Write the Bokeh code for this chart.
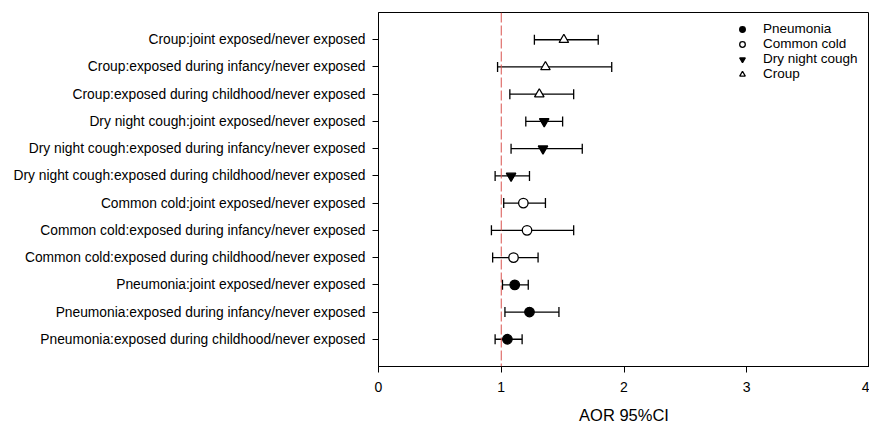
from bokeh.plotting import figure
from bokeh.models import Span, Whisker, ColumnDataSource, Legend, LegendItem, FactorRange
from bokeh.embed import file_html
from bokeh.resources import INLINE

diseases = ["Pneumonia", "Common cold", "Dry night cough", "Croup"]
exposures = ["exposed during childhood/never exposed",
             "exposed during infancy/never exposed",
             "joint exposed/never exposed"]

pneumonia_aor = [1.05, 1.23, 1.11]
pneumonia_low = [0.95, 1.03, 1.01]
pneumonia_high = [1.17, 1.47, 1.22]

common_cold_aor = [1.10, 1.21, 1.18]
common_cold_low = [0.93, 0.92, 1.02]
common_cold_high = [1.30, 1.59, 1.36]

dry_cough_aor = [1.08, 1.34, 1.35]
dry_cough_low = [0.95, 1.08, 1.20]
dry_cough_high = [1.23, 1.66, 1.50]

croup_aor = [1.31, 1.36, 1.51]
croup_low = [1.07, 0.97, 1.27]
croup_high = [1.59, 1.90, 1.79]

aor = [pneumonia_aor, common_cold_aor, dry_cough_aor, croup_aor]
low = [pneumonia_low, common_cold_low, dry_cough_low, croup_low]
high = [pneumonia_high, common_cold_high, dry_cough_high, croup_high]

markers = ["circle", "circle", "inverted_triangle", "triangle"]
fills = ["black", "white", "black", "white"]

factors = [f"{d}:{e}" for d in diseases for e in exposures]

FONT = "Liberation Sans"

p = figure(frame_width=491, frame_height=354, x_range=(0, 4),
           y_range=FactorRange(factors=factors, range_padding=0.5, range_padding_units="absolute"),
           output_backend="svg", toolbar_location=None,
           min_border_left=378, min_border_right=0, min_border_top=12, min_border_bottom=0)

p.xgrid.visible = False
p.ygrid.visible = False
p.outline_line_color = "black"
p.outline_line_width = 1
p.outline_line_alpha = 1

p.add_layout(Span(location=1, dimension="height", line_color="#d9534f",
                  line_dash="10 3", line_width=1))

legend_items = []
for i, d in enumerate(diseases):
    src = ColumnDataSource(dict(y=[f"{d}:{e}" for e in exposures],
                                x=aor[i], lo=low[i], hi=high[i]))
    w = Whisker(source=src, base="y", lower="lo", upper="hi", dimension="width",
                line_color="black", line_width=1.3)
    w.upper_head.size = 10
    w.lower_head.size = 10
    w.upper_head.line_width = 1.3
    w.lower_head.line_width = 1.3
    p.add_layout(w)
    r = p.scatter(x="x", y="y", source=src, marker=markers[i], size=9.5,
                  fill_color=fills[i], line_color="black", line_width=1.3)
    legend_items.append(LegendItem(label=d, renderers=[r]))

legend = Legend(items=legend_items, location=(357, 285), border_line_color=None,
                background_fill_alpha=0, padding=0, margin=0, spacing=0,
                glyph_width=14, glyph_height=14, label_height=14,
                label_standoff=14, label_text_font=FONT, label_text_font_size="13.5px",
                label_text_color="black")
p.add_layout(legend)

for ax in [p.xaxis[0], p.yaxis[0]]:
    ax.axis_line_color = "black"
    ax.major_tick_line_color = "black"
    ax.minor_tick_line_color = None
    ax.major_tick_in = 0
    ax.major_tick_out = 6
    ax.major_label_text_font = FONT
    ax.major_label_text_color = "black"

p.yaxis.major_label_text_font_size = "13.8px"
p.yaxis.major_label_standoff = 7
p.xaxis.major_label_text_font_size = "14px"
p.xaxis.major_label_standoff = 9
p.xaxis.ticker = [0, 1, 2, 3, 4]
p.xaxis.axis_label = "AOR 95%CI"
p.xaxis.axis_label_text_font = FONT
p.xaxis.axis_label_text_font_size = "16.5px"
p.xaxis.axis_label_text_font_style = "normal"
p.xaxis.axis_label_text_color = "black"
p.xaxis.axis_label_standoff = 11

open("out.html", "w").write(file_html(p, INLINE))
